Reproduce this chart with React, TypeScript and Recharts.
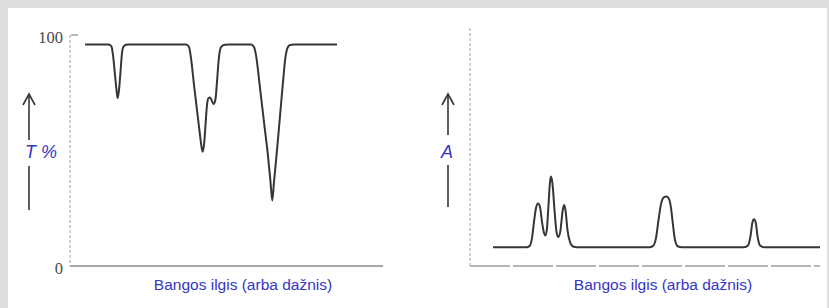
import React from 'react';
import { LineChart, Line, XAxis, YAxis, Label } from 'recharts';

// Transmittance spectrum (left): x in arbitrary wavelength units, T in %
const transX = [
  15, 39, 41.5, 43, 45, 46.5, 47.7, 49, 50.5, 52, 53.5, 56, 59,
  116, 119, 121, 124, 127, 130, 131.7, 132.7, 134, 135.5, 137, 138.5, 140, 141.5, 143.5, 145.5, 147, 148.5, 150, 152, 155, 159,
  181, 184, 186, 190, 194, 198, 200.5, 202.3, 204, 207, 210, 213, 215.5, 217.5, 220, 224, 267,
];
const transT = [
  95.9, 95.9, 95, 91.3, 82.7, 76.2, 72.7, 76.2, 84, 92.2, 95, 95.8, 95.9,
  95.9, 94.8, 90, 78.4, 67.5, 56.7, 51.1, 49.5, 52.4, 61, 69.7, 72.7, 72.9, 71.9, 70.1, 72.3, 79.7, 88.3, 93.5, 95.2, 95.8, 95.9,
  95.9, 94.8, 91.3, 77.1, 62.3, 47.6, 36.4, 28.4, 36.4, 50.2, 64.9, 79.7, 90.5, 94.4, 95.7, 95.9, 95.9,
];

// Absorbance spectrum (right)
const absX = [
  23, 57, 60, 62, 64, 66, 68, 70, 72, 74, 75.5, 77, 78.5, 80, 81, 82.5, 84.5, 86.5, 88.3, 90.5, 92.5, 94, 95.5, 97.5, 100, 103, 107,
  180, 183.5, 186, 188.5, 191, 194, 196.5, 199, 201, 203, 205, 208, 212,
  274, 278, 280.5, 282.3, 284, 285.8, 287.5, 290, 294, 350,
];
const absA = [
  7.9, 7.9, 8.6, 11.8, 18.5, 24.4, 26.3, 24.8, 18.5, 13.9, 12.8, 16, 25.6, 35.3, 37.6, 34.5, 23.5, 14.3, 12.2, 15.1, 22.7, 25.6, 23.5, 15.1, 10.1, 8.2, 7.9,
  7.9, 8.6, 11.8, 19.3, 26, 28.9, 29.2, 28.2, 24.4, 17.2, 10.9, 8.2, 7.9,
  7.9, 8.6, 12.6, 18.1, 19.6, 18.1, 12.6, 8.6, 7.9, 7.9,
];

const tTicks = [0, 100];
const tTickLabels = ['0', '100'];
const xTitle = 'Bangos ilgis (arba dažnis)';
const tTitle = 'T %';
const aTitle = 'A';

const transData = transX.map((x, i) => ({ x, t: transT[i] }));
const absData = absX.map((x, i) => ({ x, a: absA[i] }));

const BLUE = '#3535c4';
const INK = '#363636';

const renderArrow = (cx: number, textX: number, anchor: 'start' | 'middle', text: string, textY: number, gapTop: number, gapBottom: number, bottom: number) => () => (
  <g>
    <line x1={cx} y1={94} x2={cx} y2={gapTop} stroke={INK} strokeWidth={1.6} />
    <polyline points={`${cx - 6},${105} ${cx},${94} ${cx + 6},${105}`} fill="none" stroke={INK} strokeWidth={1.6} />
    <text x={textX} y={textY} textAnchor={anchor} fill={BLUE} fontStyle="italic" fontFamily="Liberation Sans, Arial, sans-serif" fontSize={18}>
      {text}
    </text>
    <line x1={cx} y1={gapBottom} x2={cx} y2={bottom} stroke={INK} strokeWidth={1.6} />
  </g>
);

const renderXTitle = (cx: number) => () => (
  <text x={cx} y={290} textAnchor="middle" fill={BLUE} fontFamily="Liberation Sans, Arial, sans-serif" fontSize={15.5}>
    {xTitle}
  </text>
);

const TTick = (props: any) => {
  const { y, payload } = props;
  const label = tTickLabels[tTicks.indexOf(payload.value)];
  return (
    <g>
      <text x={63} y={y} dy={7.5} textAnchor="end" fill="#4a4a4a" fontFamily="Liberation Serif, serif" fontSize={16.5}>
        {label}
      </text>
      {payload.value === 100 && <line x1={71} y1={y} x2={78} y2={y} stroke="#888" strokeWidth={1.2} />}
    </g>
  );
};

export default function App() {
  return (
    <div style={{ position: 'absolute', left: 0, top: 0, width: 829, height: 308, background: '#dedede' }}>
      <div style={{ position: 'absolute', left: 8, top: 8, width: 819, height: 300, background: '#ffffff' }} />
      <div style={{ position: 'absolute', left: 0, top: 0 }}>
        <LineChart width={400} height={308} data={transData} margin={{ top: 35, right: 17, bottom: 0, left: 0 }}>
          <XAxis
            dataKey="x"
            type="number"
            domain={[0, 313]}
            allowDataOverflow
            height={42}
            tick={false}
            tickLine={false}
            axisLine={{ stroke: '#8a8a8a', strokeWidth: 1.5 }}
          >
            <Label content={renderXTitle(243)} />
          </XAxis>
          <YAxis
            type="number"
            domain={[0, 100]}
            ticks={tTicks}
            width={70}
            tick={<TTick />}
            tickLine={false}
            axisLine={{ stroke: '#b0b0b0', strokeWidth: 1.2, strokeDasharray: '3 2' }}
          >
            <Label content={renderArrow(29, 25, 'start', tTitle, 158, 140, 166, 210)} />
          </YAxis>
          <Line type="monotone" dataKey="t" stroke={INK} strokeWidth={2} dot={false} isAnimationActive={false} />
        </LineChart>
      </div>
      <div style={{ position: 'absolute', left: 420, top: 0 }}>
        <LineChart width={409} height={308} data={absData} margin={{ top: 28, right: 9, bottom: 0, left: 0 }}>
          <XAxis
            dataKey="x"
            type="number"
            domain={[0, 350]}
            allowDataOverflow
            height={42}
            tick={false}
            tickLine={false}
            axisLine={{ stroke: '#a0a0a0', strokeWidth: 1.3, strokeDasharray: '40 3' }}
          >
            <Label content={renderXTitle(243)} />
          </XAxis>
          <YAxis
            type="number"
            domain={[0, 100]}
            width={50}
            tick={false}
            tickLine={false}
            axisLine={{ stroke: '#b0b0b0', strokeWidth: 1.2, strokeDasharray: '3 2' }}
          >
            <Label content={renderArrow(28, 27, 'middle', aTitle, 158, 135, 165, 207)} />
          </YAxis>
          <Line type="monotone" dataKey="a" stroke={INK} strokeWidth={2} dot={false} isAnimationActive={false} />
        </LineChart>
      </div>
    </div>
  );
}
